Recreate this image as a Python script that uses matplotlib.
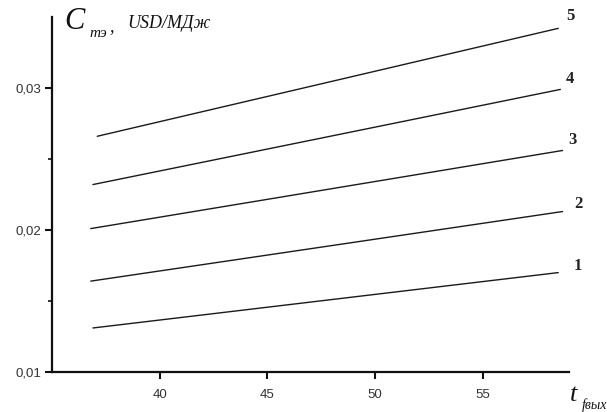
import matplotlib
matplotlib.use("Agg")
import matplotlib.pyplot as plt

# Cost curves, one segment per case (start / end)
curve_names = ["1", "2", "3", "4", "5"]
x_start = [36.9, 36.8, 36.8, 36.9, 37.1]
x_end = [58.5, 58.7, 58.7, 58.6, 58.5]
c_start = [0.0131, 0.0164, 0.0201, 0.0232, 0.0266]
c_end = [0.0170, 0.0213, 0.0256, 0.0299, 0.0342]

x_ticks = [40, 45, 50, 55]
y_ticks = [0.01, 0.02, 0.03]
y_tick_labels = ["0,01", "0,02", "0,03"]
y_minor = [0.015, 0.025]

# label offsets from the line ends, in pixels
label_dx = [20, 16, 10, 9, 12]
label_dy = [7, 8, 10, 10, 12]

fig = plt.figure(figsize=(6.07, 4.12), dpi=100)
ax = fig.add_axes([52 / 607, 40 / 412, 517 / 607, 355 / 412])

for i, name in enumerate(curve_names):
    ax.plot([x_start[i], x_end[i]], [c_start[i], c_end[i]],
            color="#1a1a1a", linewidth=1.0, solid_capstyle="round")
    ax.annotate(name, xy=(x_end[i], c_end[i]), xycoords="data",
                xytext=(label_dx[i] * 0.72, label_dy[i] * 0.72),
                textcoords="offset points", ha="center", va="center",
                fontsize=12, family="Liberation Serif", fontweight="bold",
                color="#222222", annotation_clip=False)

ax.set_xlim(35, 59)
ax.set_ylim(0.01, 0.035)

ax.spines["top"].set_visible(False)
ax.spines["right"].set_visible(False)
for side in ("left", "bottom"):
    ax.spines[side].set_linewidth(1.6)
    ax.spines[side].set_color("#111111")

ax.set_xticks(x_ticks)
ax.set_xticklabels([str(t) for t in x_ticks])
ax.set_yticks(y_ticks)
ax.set_yticklabels(y_tick_labels)
ax.set_yticks(y_minor, minor=True)

ax.tick_params(axis="both", which="major", direction="out", length=5,
               width=1.5, color="#111111", labelsize=9.5,
               labelcolor="#333333")
ax.tick_params(axis="y", which="minor", direction="out", length=3,
               width=1.2, color="#111111")
ax.tick_params(axis="x", pad=7)
ax.tick_params(axis="y", pad=3)
for lbl in ax.get_xticklabels() + ax.get_yticklabels():
    lbl.set_family("Liberation Sans")

# axis titles drawn as separate pieces (Cyrillic subscripts)
serif = "Liberation Serif"
fig.text(64 / 607, 1 - 29 / 412, "C", fontsize=22, family=serif,
         style="italic", va="baseline", ha="left", color="#111111")
fig.text(89 / 607, 1 - 37 / 412, "тэ", fontsize=11, family=serif,
         style="italic", va="baseline", ha="left", color="#111111")
fig.text(109 / 607, 1 - 31 / 412, ",", fontsize=13, family=serif,
         style="italic", va="baseline", ha="left", color="#111111")
fig.text(127 / 607, 1 - 28 / 412, "USD/МДж", fontsize=13, family=serif,
         style="italic", va="baseline", ha="left", color="#111111")

fig.text(570 / 607, 1 - 401 / 412, "t", fontsize=19, family=serif,
         style="italic", va="baseline", ha="left", color="#111111")
fig.text(582 / 607, 1 - 409 / 412, "fвых", fontsize=10, family=serif,
         style="italic", va="baseline", ha="left", color="#111111")

fig.savefig("out.png", dpi=100, facecolor="white")
